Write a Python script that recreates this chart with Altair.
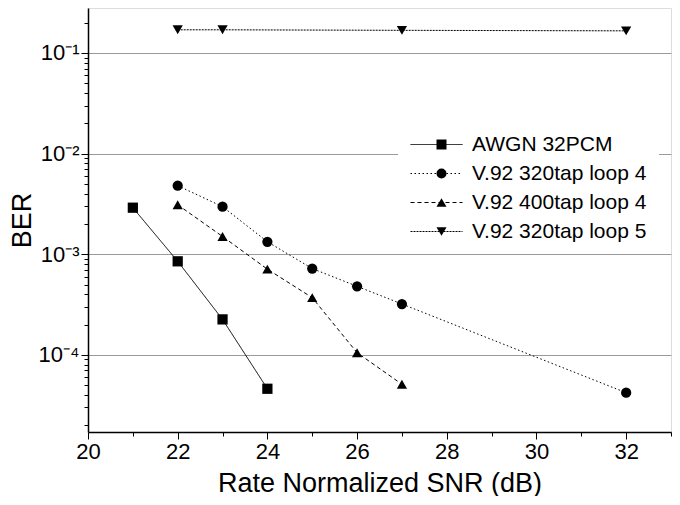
import altair as alt
import pandas as pd

series_names = ["AWGN 32PCM", "V.92 320tap loop 4", "V.92 400tap loop 4", "V.92 320tap loop 5"]

snr_awgn = [21, 22, 23, 24]
ber_awgn = [2.9e-3, 8.5e-4, 2.25e-4, 4.6e-5]

snr_320_4 = [22, 23, 24, 25, 26, 27, 32]
ber_320_4 = [4.8e-3, 2.97e-3, 1.33e-3, 7.2e-4, 4.8e-4, 3.2e-4, 4.2e-5]

snr_400_4 = [22, 23, 24, 25, 26, 27]
ber_400_4 = [3.1e-3, 1.5e-3, 7.1e-4, 3.7e-4, 1.05e-4, 5.1e-5]

snr_320_5 = [22, 23, 27, 32]
ber_320_5 = [0.17, 0.17, 0.168, 0.166]

x_ticks = list(range(20, 34))
y_ticks = [m * 10.0 ** e for e in [-5, -4, -3, -2, -1] for m in range(1, 10)
           if 1.7e-5 <= m * 10.0 ** e <= 0.28]

# marker legend uses its own category names (labels hidden) so it is not merged with the line legend
marker_names = [n + " marker" for n in series_names]

rows = []
for name, mname, xs, ys in zip(series_names, marker_names,
                               [snr_awgn, snr_320_4, snr_400_4, snr_320_5],
                               [ber_awgn, ber_320_4, ber_400_4, ber_320_5]):
    for xv, yv in zip(xs, ys):
        rows.append({"series": name, "series_mark": mname, "snr": xv, "ber": yv})
df = pd.DataFrame(rows)

FONT = "Liberation Sans"
xscale = alt.Scale(domain=[20, 33], nice=False, zero=False)
yscale = alt.Scale(type="log", domain=[1.71e-5, 0.28], nice=False)

is_decade = "abs(log(datum.value)/LN10 - round(log(datum.value)/LN10)) < 1e-6"
is_even = "datum.value % 2 == 0"

label_expr = ("datum.value > 0.05 ? '10⁻¹' : datum.value > 0.005 ? '10⁻²' : "
              "datum.value > 0.0005 ? '10⁻³' : '10⁻⁴'")

x_main = alt.X("snr:Q", scale=xscale, title="Rate Normalized SNR (dB)",
               axis=alt.Axis(values=x_ticks, grid=False,
                             tickSize={"condition": {"test": is_even, "value": 7}, "value": 4},
                             labelExpr="datum.value % 2 == 0 ? datum.label : ''",
                             tickColor="black", domainColor="black", domainWidth=1.5,
                             labelFont=FONT, labelFontSize=22, labelColor="black",
                             labelPadding=2, labelFlush=False, labelOverlap=False,
                             titleFont=FONT, titleFontSize=27,
                             titleFontWeight="normal", titleColor="black", titlePadding=8))
y_main = alt.Y("ber:Q", scale=yscale, title="BER",
               axis=alt.Axis(values=y_ticks, grid=True, gridColor="#9a9a9a", gridWidth=1,
                             gridOpacity={"condition": {"test": is_decade, "value": 1}, "value": 0},
                             tickSize={"condition": {"test": is_decade, "value": 7}, "value": 4},
                             tickColor="black", domainColor="black", domainWidth=1.5,
                             labelExpr=is_decade + " ? (" + label_expr + ") : ''",
                             labelFont=FONT, labelFontSize=22, labelColor="black",
                             labelPadding=2, labelOverlap=False, labelFlush=False,
                             titleFont=FONT, titleFontSize=27, titleFontWeight="normal",
                             titleColor="black", titlePadding=2))

LEG_X = 310
LEG_Y = 114
dash = alt.StrokeDash("series:N",
                      scale=alt.Scale(domain=series_names, range=[[1, 0], [1.5, 2.5], [4, 3], [2, 1]]),
                      legend=alt.Legend(title=None, orient="none", legendX=LEG_X, legendY=LEG_Y,
                                        symbolType="M-1,0H4.2", symbolSize=400, symbolStrokeWidth=1,
                                        symbolStrokeColor="black", symbolFillColor="transparent",
                                        labelFont=FONT, labelFontSize=21, labelLimit=400,
                                        labelColor="black", labelOffset=41, rowPadding=7,
                                        padding=12, fillColor="white"))
shape = alt.Shape("series_mark:N",
                  scale=alt.Scale(domain=marker_names,
                                  range=["square", "circle", "triangle-up", "triangle-down"]),
                  legend=alt.Legend(title=None, orient="none", legendX=LEG_X + 21, legendY=LEG_Y,
                                    symbolSize=100, symbolFillColor="black", symbolStrokeWidth=0,
                                    symbolOpacity=1, labelFont=FONT, labelFontSize=21,
                                    labelExpr="''", labelOffset=0,
                                    rowPadding=7, padding=12))

lines = alt.Chart(df).mark_line(color="black", strokeWidth=1).encode(
    x=x_main, y=y_main, strokeDash=dash)
points = alt.Chart(df).mark_point(filled=True, color="black", opacity=1, size=105).encode(
    x=alt.X("snr:Q", scale=xscale), y=alt.Y("ber:Q", scale=yscale), shape=shape)

chart = alt.layer(lines, points).properties(
    width=583, height=424, padding={"left": 0, "top": 0, "right": 0, "bottom": 0}
).configure_view(stroke=None).configure(background="white")

chart.save("out.html", embed_options={"renderer": "svg", "actions": False})
